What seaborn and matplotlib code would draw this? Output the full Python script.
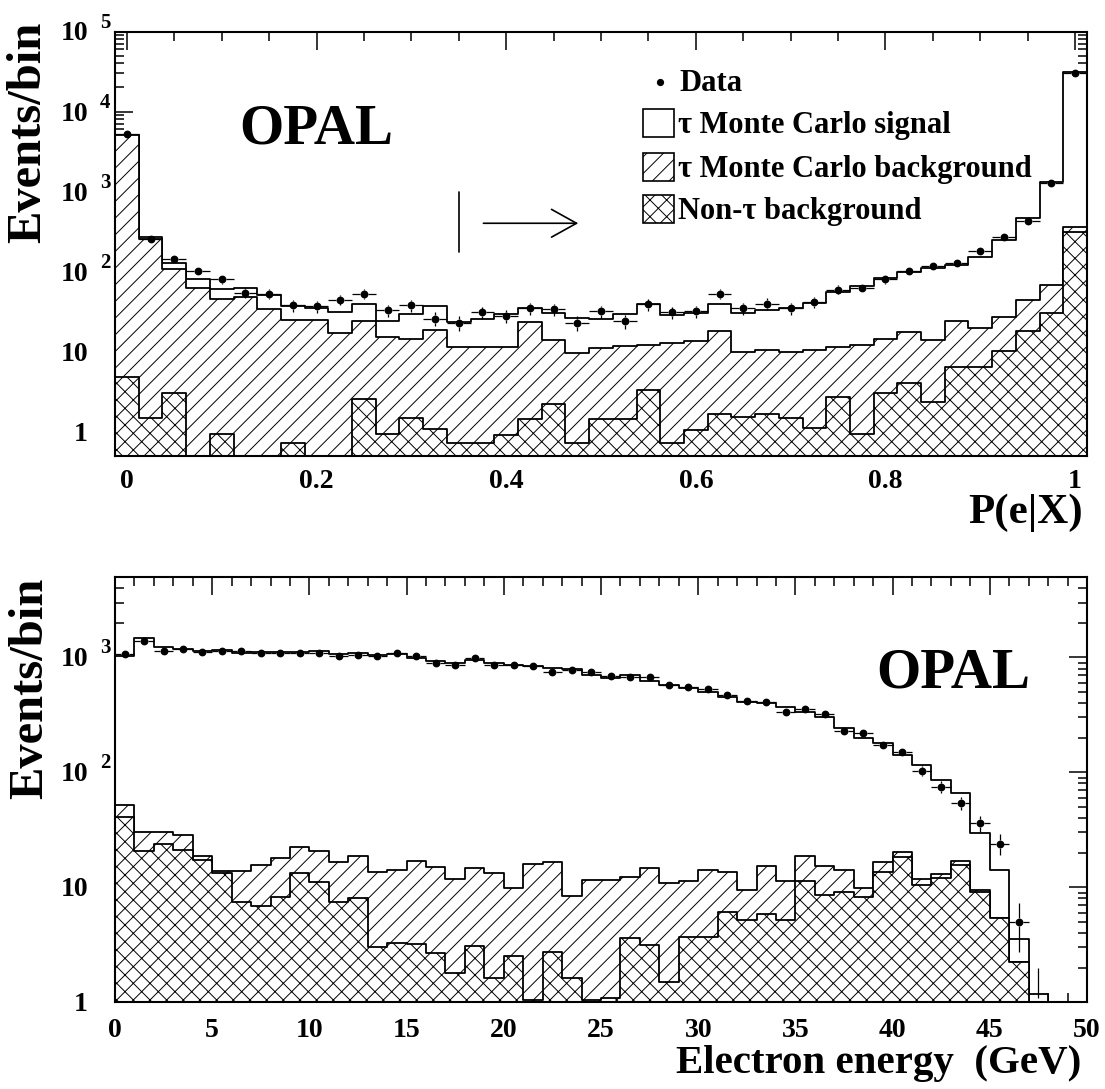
import numpy as np
import pandas as pd
import matplotlib
matplotlib.use("Agg")
import matplotlib.pyplot as plt
import seaborn as sns
from matplotlib.patches import Rectangle, FancyArrowPatch
from matplotlib.lines import Line2D
from matplotlib.ticker import FixedLocator, MultipleLocator, LogLocator, NullFormatter
from matplotlib.transforms import blended_transform_factory, offset_copy

# ---------------- Panel 1 : P(e|X), 41 bins of 0.025 ----------------
pex_range = (-0.0125, 1.0125)
pex_nbins = 41
pex_nontau = [4.9, 1.5, 3.1, 0, 0.93, 0, 0, 0.73, 0, 0, 2.54, 0.93, 1.47, 1.08, 0.73,
              0.73, 0.91, 1.43, 2.22, 0.73, 1.43, 1.43, 3.32, 0.73, 1.07, 1.65, 1.54,
              1.65, 1.47, 1.12, 2.7, 0.93, 3.1, 4.1, 2.37, 6.5, 6.5, 10.3, 18.2, 30.8, 316]
pex_taubkg = [5110, 252.5, 106, 63, 45, 48, 34.5, 24.2, 24.9, 17, 21.9, 14.2, 12.8, 17.9,
              10.6, 10.9, 10.7, 22.3, 11.8, 8.8, 9.8, 10.5, 8.8, 12.0, 12.6, 16.6, 8.3,
              8.9, 8.5, 9.4, 8.9, 11.2, 11.2, 13.4, 11.6, 17.7, 13.5, 17.1, 26.6, 37.5, 50]
pex_signal = [0, 15, 18, 19, 15, 14, 17, 12.4, 10.6, 14.7, 14.7, 9.1, 15, 18.3, 12.4,
              13.8, 17.7, 11.8, 16.8, 17.1, 14.2, 18, 27.8, 15.8, 17.1, 21.7, 21, 22.4,
              25.5, 30.6, 44.7, 54.2, 68.3, 82.5, 96, 96.8, 134, 222, 419, 1266, 31280]
pex_data = [5210, 259, 143, 101, 80, 55, 53, 38, 37, 45, 53, 33, 38, 26, 23, 31, 28, 35,
            34, 23, 32, 24, 39, 31, 32, 53, 35, 40, 35, 42, 60, 63, 80, 102, 119, 127,
            183, 269, 426, 1285, 30200]
pex_xticks = [0, 0.2, 0.4, 0.6, 0.8, 1.0]
pex_xticklabels = ["0", "0.2", "0.4", "0.6", "0.8", "1"]
pex_cut = 0.35

# ---------------- Panel 2 : electron energy, 50 bins of 1 GeV ----------------
ene_range = (0, 50)
ene_nbins = 50
ene_nontau = [41.1, 20.7, 24.0, 21.1, 17.3, 13.2, 7.5, 6.9, 8.3, 13.4, 11.2, 7.5, 8.0,
              3.05, 3.3, 3.2, 2.67, 1.79, 3.09, 1.62, 2.54, 1.05, 2.72, 1.62, 1.05, 1.08,
              3.65, 3.15, 1.49, 3.72, 3.72, 6.05, 5.2, 5.86, 5.2, 11.35, 8.57, 9.17, 8.3,
              13.7, 18.4, 10.5, 12.0, 15.6, 9.17, 5.44, 2.26, 0, 0, 0]
ene_taubkg = [10.9, 9.4, 6.5, 7.4, 1.5, 0.7, 6.4, 8.7, 9.6, 9.1, 9.5, 9.0, 10.8, 10.65,
              10.8, 13.9, 12.4, 10.0, 11.5, 11.8, 7.4, 14.75, 13.8, 6.84, 10.55, 10.5,
              8.75, 11.65, 9.5, 7.6, 10.4, 7.65, 4.3, 9.4, 6.15, 7.35, 6.8, 4.9, 1.5, 2.8,
              1.7, 1.3, 1.1, 1.3, 0.3, 0, 0, 0, 0, 0]
ene_signal = [981, 1432, 1206, 1151, 1115, 1143, 1083, 1089, 1102, 1097, 1113, 1052, 1063,
              1033, 1055, 962, 924, 878, 932, 873, 847, 830, 785, 782, 690, 645, 690, 607,
              563, 526, 482, 441, 401, 383, 361, 318, 290, 227, 190, 165, 121, 104, 72.6,
              48.7, 20, 8.7, 1.3, 1.17, 0, 0]
ene_data = [1062, 1387, 1134, 1180, 1112, 1142, 1134, 1082, 1097, 1097, 1082, 1026, 1047,
            1026, 1082, 1019, 886, 852, 979, 857, 857, 840, 750, 776, 750, 693, 679, 670,
            574, 556, 534, 470, 420, 411, 337, 353, 319, 230, 218, 173, 151, 103, 75, 54,
            36, 24, 5, 1, 0, 0]
ene_xticks = [0, 5, 10, 15, 20, 25, 30, 35, 40, 45, 50]
ene_xticklabels = ["0", "5", "10", "15", "20", "25", "30", "35", "40", "45", "50"]

legend_labels = ["Data", "\u03c4 Monte Carlo signal", "\u03c4 Monte Carlo background",
                 "Non-\u03c4 background"]

# ---------------- style ----------------
sns.set_theme(style="ticks")
FONT = ["Liberation Serif", "DejaVu Serif"]
plt.rcParams["font.family"] = FONT
plt.rcParams["font.weight"] = "bold"
plt.rcParams["hatch.linewidth"] = 0.7
plt.rcParams["hatch.color"] = "black"
for key in ["text.color", "axes.labelcolor", "xtick.color", "ytick.color",
            "axes.edgecolor"]:
    plt.rcParams[key] = "black"

W, H = 1105, 1089
fig = plt.figure(figsize=(W / 100, H / 100), dpi=100)
fig.patch.set_facecolor("white")


def fx(px):
    return px / W


def fy(py):
    return 1 - py / H


def ftext(xp, yp, s, size, **kw):
    fig.text(fx(xp), fy(yp), s, fontsize=size, fontweight="bold", color="black", **kw)


ax1 = fig.add_axes([fx(115), fy(456), 972 / W, (456 - 31.5) / H])
ax2 = fig.add_axes([fx(115), fy(1002.3), 972 / W, (1002.3 - 577) / H])


def draw_stack(ax, rng, nb, nontau, taubkg, signal):
    edges = np.linspace(rng[0], rng[1], nb + 1)
    centers = 0.5 * (edges[:-1] + edges[1:])
    lvl_n = np.asarray(nontau, float)
    lvl_b = lvl_n + np.asarray(taubkg, float)
    lvl_t = lvl_b + np.asarray(signal, float)
    for lvl, hatch in [(lvl_t, None), (lvl_b, "//"), (lvl_n, "xx")]:
        df = pd.DataFrame({"x": centers, "w": lvl})
        sns.histplot(data=df, x="x", weights="w", bins=nb, binrange=rng,
                     element="step", fill=True, ax=ax, facecolor="white",
                     edgecolor="black", linewidth=1.3, hatch=hatch, alpha=1)
    return edges, centers


def draw_data(ax, centers, width, counts, gap_x, gap_f, ymin):
    d = np.asarray(counts, float)
    m = d > 0
    c, d = centers[m], d[m]
    e = np.sqrt(d)
    kw = dict(colors="black", linewidth=0.9, zorder=4)
    ax.hlines(d, c - width / 2, c - gap_x, **kw)
    ax.hlines(d, c + gap_x, c + width / 2, **kw)
    lo_up, hi_up = d * gap_f, d + e
    u = hi_up > lo_up
    ax.vlines(c[u], lo_up[u], hi_up[u], **kw)
    hi_dn, lo_dn = d / gap_f, np.maximum(d - e, ymin * 0.5)
    dn = lo_dn < hi_dn
    ax.vlines(c[dn], lo_dn[dn], hi_dn[dn], **kw)
    vis = d > ymin
    ax.plot(c[vis], d[vis], marker="o", ms=4.6, color="black", linestyle="none", zorder=5)


def style_axis(ax, xlim, ylim, xmajor, xminor, decades, xlabs, xlab_off):
    ax.set_yscale("log")
    ax.set_xlim(*xlim)
    ax.set_ylim(*ylim)
    ax.xaxis.set_major_locator(FixedLocator(xmajor))
    ax.xaxis.set_minor_locator(MultipleLocator(xminor))
    ax.yaxis.set_major_locator(FixedLocator([10.0 ** k for k in decades]))
    ax.yaxis.set_minor_locator(LogLocator(base=10, subs=np.arange(2, 10)))
    ax.yaxis.set_minor_formatter(NullFormatter())
    ax.tick_params(which="both", direction="in", top=True, right=True, bottom=True,
                   left=True, labelbottom=False, labelleft=False, width=1.1, color="black")
    ax.tick_params(which="major", length=13)
    ax.tick_params(which="minor", length=6.5)
    ax.set_xlabel("")
    ax.set_ylabel("")
    for sp in ax.spines.values():
        sp.set_linewidth(1.5)
        sp.set_color("black")
        sp.set_visible(True)
    ax.set_facecolor("white")
    trx = blended_transform_factory(ax.transData, ax.transAxes)
    for v, s in zip(xmajor, xlabs):
        ax.text(v, 0, s, transform=offset_copy(trx, fig=fig, x=0, y=-xlab_off, units="dots"),
                ha="center", va="baseline", fontsize=20, fontweight="bold", color="black",
                clip_on=False)
    try_ = blended_transform_factory(ax.transAxes, ax.transData)
    for k in decades:
        v = 10.0 ** k
        base = "1" if k == 0 else "10"
        ax.text(0, v, base, transform=offset_copy(try_, fig=fig, x=-27, y=-9, units="dots"),
                ha="right", va="baseline", fontsize=20, fontweight="bold", color="black",
                clip_on=False)
        if k >= 2:
            ax.text(0, v, str(k), transform=offset_copy(try_, fig=fig, x=-15, y=4, units="dots"),
                    ha="left", va="baseline", fontsize=15, fontweight="bold", color="black",
                    clip_on=False)


# ---------------- top panel ----------------
e1, c1 = draw_stack(ax1, pex_range, pex_nbins, pex_nontau, pex_taubkg, pex_signal)
w1 = e1[1] - e1[0]
draw_data(ax1, c1, w1, pex_data, gap_x=0.0042, gap_f=1.12, ymin=0.5)
style_axis(ax1, pex_range, (0.5, 1.0e5), pex_xticks, 0.05, [0, 1, 2, 3, 4, 5],
           pex_xticklabels, 32)
ax1.plot([pex_cut, pex_cut], [178, 1000], color="black", lw=1.2, zorder=4)
arr = FancyArrowPatch((pex_cut + 0.026, 403), (pex_cut + 0.126, 403),
                      arrowstyle="->,head_length=0.9,head_width=0.5", mutation_scale=20,
                      lw=1.2, color="black", shrinkA=0, shrinkB=0, zorder=4)
ax1.add_patch(arr)

# ---------------- bottom panel ----------------
e2, c2 = draw_stack(ax2, ene_range, ene_nbins, ene_nontau, ene_taubkg, ene_signal)
w2 = e2[1] - e2[0]
draw_data(ax2, c2, w2, ene_data, gap_x=0.2, gap_f=1.083, ymin=1.0)
style_axis(ax2, ene_range, (1.0, 5000), ene_xticks, 1, [0, 1, 2, 3],
           ene_xticklabels, 35)

# ---------------- titles / labels ----------------
ftext(28, 22, "Events/bin", 35, rotation=90, ha="center", va="top")
ftext(30, 578, "Events/bin", 35, rotation=90, ha="center", va="top")
ftext(1083, 523, "P(e|X)", 31, ha="right", va="baseline")
ftext(1081, 1073, "Electron energy  (GeV)", 29.5, ha="right", va="baseline")
ftext(316.5, 143, "OPAL", 41, ha="center", va="baseline")
ftext(953.5, 688, "OPAL", 41, ha="center", va="baseline")

# ---------------- legend ----------------
fig.add_artist(Line2D([fx(660)], [fy(82)], marker="o", ms=4.2, color="black",
                      linestyle="none", transform=fig.transFigure))
ftext(679, 90.7, legend_labels[0], 22, ha="left", va="baseline")
box_rows = [(109.3, 133.0, None), (153.3, 176.7, "//"), (195.5, 218.5, "xx")]
for (ytop, ybase, hatch), lab in zip(box_rows, legend_labels[1:]):
    fig.add_artist(Rectangle((fx(642.7), fy(ytop + 27.5)), 31.3 / W, 27.5 / H,
                             transform=fig.transFigure, facecolor="white",
                             edgecolor="black", lw=1.2, hatch=hatch))
    ftext(678.3, ybase, lab, 22, ha="left", va="baseline")

fig.savefig("out.png", dpi=100, facecolor="white")
